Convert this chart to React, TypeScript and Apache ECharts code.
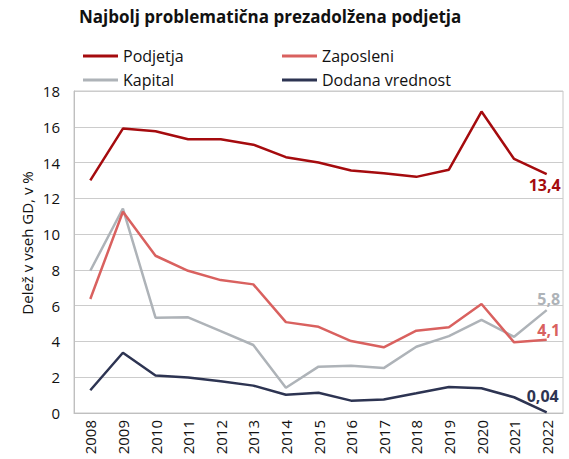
import React, { useEffect, useRef } from "react";
import * as echarts from "echarts";

const years = ["2008","2009","2010","2011","2012","2013","2014","2015","2016","2017","2018","2019","2020","2021","2022"];
const podjetja = [13.0, 15.9, 15.75, 15.3, 15.3, 15.0, 14.3, 14.0, 13.56, 13.4, 13.2, 13.6, 16.85, 14.2, 13.35];
const zaposleni = [6.37, 11.25, 8.79, 7.95, 7.43, 7.19, 5.08, 4.82, 4.02, 3.67, 4.6, 4.79, 6.09, 3.95, 4.1];
const kapital = [7.95, 11.43, 5.33, 5.35, 4.58, 3.8, 1.41, 2.59, 2.64, 2.51, 3.7, 4.3, 5.2, 4.26, 5.75];
const dodana = [1.27, 3.37, 2.1, 1.99, 1.77, 1.53, 1.02, 1.13, 0.69, 0.76, 1.1, 1.45, 1.38, 0.88, 0.04];
const seriesNames = ["Podjetja", "Zaposleni", "Kapital", "Dodana vrednost"];
const endLabels = ["13,4", "4,1", "5,8", "0,04"];

const FONT = "'Open Sans', 'Noto Sans', sans-serif";

export default function App() {
  const ref = useRef<HTMLDivElement>(null);
  useEffect(() => {
    if (!ref.current) return;
    const chart = echarts.init(ref.current, undefined, { renderer: "svg" });
    const colors = ["#A50B0E", "#D9615F", "#AEB3B8", "#2D3452"];
    const data = [podjetja, zaposleni, kapital, dodana];
    const offsets = [[-2, 11], [2, -10], [2, -11], [-4, -16]];
    const legendBase = {
      orient: "vertical",
      top: 40,
      itemWidth: 35,
      itemHeight: 3,
      itemGap: 2,
      icon: "rect",
      textStyle: { fontFamily: FONT, fontSize: 16, color: "#111", lineHeight: 22 },
    };
    chart.setOption({
      animation: false,
      textStyle: { fontFamily: FONT },
      title: {
        text: "Najbolj problematična prezadolžena podjetja",
        left: 74,
        top: 3,
        textStyle: { fontFamily: FONT, fontSize: 17, fontWeight: "bold", color: "#111" },
      },
      legend: [
        { ...legendBase, data: [seriesNames[0], seriesNames[2]], left: 78 },
        { ...legendBase, data: [seriesNames[1], seriesNames[3]], left: 277 },
      ],
      grid: { left: 74, right: 6, top: 91, bottom: 46, show: true, borderColor: "#C8C8C8", borderWidth: 1 },
      xAxis: {
        type: "category",
        data: years,
        boundaryGap: true,
        axisLine: { lineStyle: { color: "#BFBFBF" } },
        axisTick: { alignWithLabel: true, length: 4, lineStyle: { color: "#BFBFBF" } },
        axisLabel: { rotate: 90, color: "#111", fontSize: 15, fontFamily: FONT, margin: 7 },
      },
      yAxis: {
        type: "value",
        min: 0,
        max: 18,
        interval: 2,
        axisLine: { show: true, lineStyle: { color: "#BFBFBF" } },
        axisTick: { show: false },
        splitLine: { lineStyle: { color: "#CCCCCC" } },
        axisLabel: { color: "#111", fontSize: 15, fontFamily: FONT, margin: 14 },
      },
      graphic: [
        {
          type: "text",
          x: 27,
          y: 243,
          rotation: Math.PI / 2,
          style: {
            text: "Delež v vseh GD, v %",
            fontSize: 15,
            fontFamily: FONT,
            fill: "#111",
            textAlign: "center",
            textVerticalAlign: "middle",
          },
        },
      ],
      series: seriesNames.map((name, i) => ({
        name,
        type: "line",
        data: data[i],
        showSymbol: false,
        symbol: "none",
        color: colors[i],
        lineStyle: { width: 2.5, color: colors[i] },
        z: 10 - i,
        endLabel: {
          show: true,
          formatter: () => endLabels[i],
          color: colors[i],
          fontWeight: "bold",
          fontSize: 16,
          fontFamily: FONT,
          distance: 0,
          align: "center",
          verticalAlign: "middle",
          offset: offsets[i],
        },
      })),
    });
    return () => chart.dispose();
  }, []);
  return <div ref={ref} style={{ position: "absolute", left: 0, top: 0, width: 569, height: 459 }} />;
}
